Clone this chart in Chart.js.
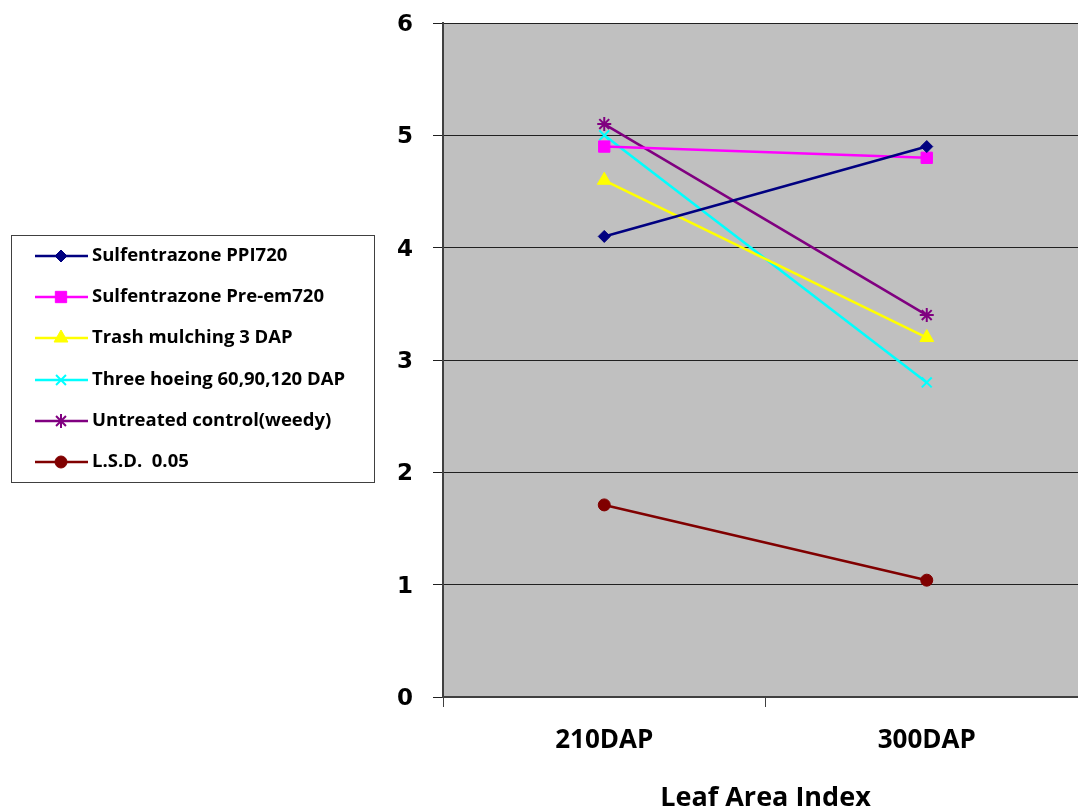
<!DOCTYPE html>
<html>
<head>
<meta charset="utf-8">
<title>Leaf Area Index</title>
<script src="https://cdn.jsdelivr.net/npm/chart.js@4/dist/chart.umd.min.js"></script>
<style>
    html, body { margin: 0; padding: 0; background: #ffffff; overflow: hidden; }
    #wrap { width: 1097px; height: 812px; }
</style>
</head>
<body>
<div id="wrap"><canvas id="laiChart" width="1097" height="812"></canvas></div>
<script>
const categories = ['210DAP', '300DAP'];
const seriesNames = [
    'Sulfentrazone PPI720',
    'Sulfentrazone Pre-em720',
    'Trash mulching 3 DAP',
    'Three hoeing 60,90,120 DAP',
    'Untreated control(weedy)',
    'L.S.D.  0.05'
];
const ppi720 = [4.1, 4.9];
const preEm720 = [4.9, 4.8];
const trashMulching = [4.6, 3.2];
const threeHoeing = [5.0, 2.8];
const untreated = [5.1, 3.4];
const lsd05 = [1.71, 1.04];
const yTicks = [0, 1, 2, 3, 4, 5, 6];

const styles = [
    { color: '#000080', pointStyle: 'rectRot', radius: 6 },
    { color: '#ff00ff', pointStyle: 'rect', radius: 8 },
    { color: '#ffff00', pointStyle: 'triangle', radius: 8 },
    { color: '#00ffff', pointStyle: 'crossRot', radius: 7 },
    { color: '#800080', pointStyle: 'star', radius: 7 },
    { color: '#800000', pointStyle: 'circle', radius: 6 }
];
const seriesValues = [ppi720, preEm720, trashMulching, threeHoeing, untreated, lsd05];

const datasets = seriesValues.map((values, i) => ({
    label: seriesNames[i],
    data: values,
    borderColor: styles[i].color,
    backgroundColor: styles[i].color,
    borderWidth: 2.5,
    pointStyle: styles[i].pointStyle,
    pointRadius: styles[i].radius,
    pointHoverRadius: styles[i].radius,
    pointBorderWidth: (styles[i].pointStyle === 'crossRot' || styles[i].pointStyle === 'star') ? 2 : 1,
    tension: 0
}));

// grey plot area
const plotBackground = {
    id: 'plotBackground',
    beforeDraw(chart) {
        const { ctx, chartArea } = chart;
        ctx.save();
        ctx.fillStyle = '#c0c0c0';
        ctx.fillRect(chartArea.left, chartArea.top, chartArea.right - chartArea.left, chartArea.bottom - chartArea.top);
        ctx.restore();
    }
};

// boxed legend on the left side
const sideLegend = {
    id: 'sideLegend',
    afterDraw(chart) {
        const ctx = chart.ctx;
        const box = { x: 11, y: 235, w: 363, h: 247 };
        const rowTop = 256;
        const rowGap = 41.2;
        ctx.save();
        ctx.fillStyle = '#ffffff';
        ctx.fillRect(box.x, box.y, box.w, box.h);
        ctx.strokeStyle = '#404040';
        ctx.lineWidth = 1;
        ctx.strokeRect(box.x + 0.5, box.y + 0.5, box.w, box.h);

        chart.data.datasets.forEach((ds, i) => {
            const y = Math.round(rowTop + i * rowGap);
            ctx.strokeStyle = ds.borderColor;
            ctx.lineWidth = 2.5;
            ctx.beginPath();
            ctx.moveTo(35, y);
            ctx.lineTo(88, y);
            ctx.stroke();

            ctx.fillStyle = ds.backgroundColor;
            ctx.strokeStyle = ds.borderColor;
            ctx.lineWidth = ds.pointBorderWidth;
            Chart.helpers.drawPoint(ctx, {
                pointStyle: ds.pointStyle,
                radius: ds.pointRadius,
                rotation: 0,
                borderWidth: ds.pointBorderWidth
            }, 61, y);

            ctx.fillStyle = '#000000';
            ctx.font = 'bold 18.5px "Open Sans", sans-serif';
            ctx.textBaseline = 'middle';
            ctx.textAlign = 'left';
            ctx.fillText(ds.label, 92, y);
        });
        ctx.restore();
    }
};

const ctx = document.getElementById('laiChart').getContext('2d');
const laiChart = new Chart(ctx, {
    type: 'line',
    data: {
        labels: categories,
        datasets: datasets
    },
    options: {
        responsive: false,
        animation: false,
        devicePixelRatio: 1,
        layout: { padding: { left: 380, top: 23, right: 0, bottom: 0 } },
        plugins: {
            legend: { display: false },
            tooltip: { enabled: false }
        },
        scales: {
            x: {
                offset: true,
                grid: {
                    offset: true,
                    drawOnChartArea: false,
                    drawTicks: true,
                    tickLength: 10,
                    color: '#404040'
                },
                border: { color: '#404040', width: 2 },
                ticks: {
                    color: '#000000',
                    padding: 19,
                    font: { family: '"Open Sans", sans-serif', size: 26, weight: 'bold', lineHeight: 1.1 }
                },
                title: {
                    display: true,
                    text: 'Leaf Area Index',
                    color: '#000000',
                    padding: { top: 0, bottom: 0 },
                    font: { family: '"Open Sans", sans-serif', size: 27, weight: 'bold', lineHeight: 1.0 }
                },
                afterFit(scale) { scale.height = 115; }
            },
            y: {
                min: 0,
                max: 6,
                afterBuildTicks(scale) { scale.ticks = yTicks.map(v => ({ value: v })); },
                grid: {
                    color: '#202020',
                    lineWidth: 1,
                    drawTicks: true,
                    tickLength: 10
                },
                border: { color: '#404040', width: 2 },
                ticks: {
                    color: '#000000',
                    padding: 20,
                    labelOffset: 2,
                    font: { family: '"DejaVu Sans", sans-serif', size: 23, weight: 'bold' }
                },
                afterFit(scale) {
                    scale.width = 63;
                    scale.paddingTop = 0;
                    scale.paddingBottom = 0;
                }
            }
        }
    },
    plugins: [plotBackground, sideLegend]
});
</script>
</body>
</html>
